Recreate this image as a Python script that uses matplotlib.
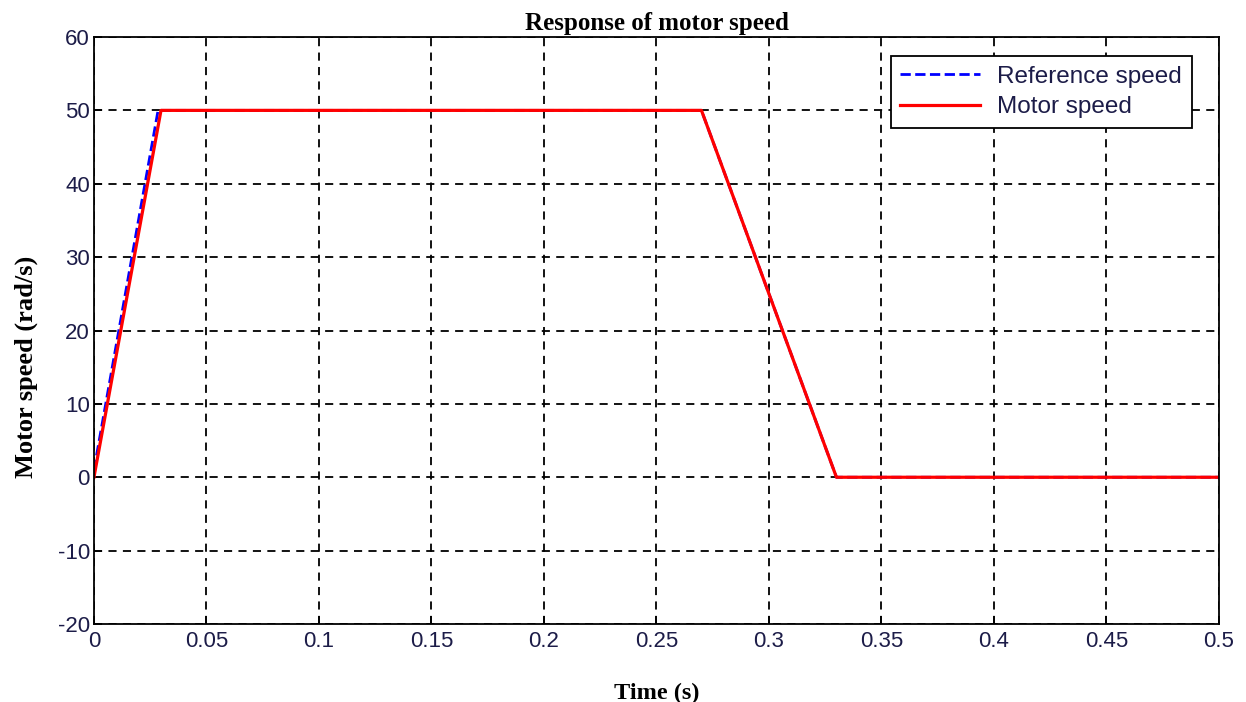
import matplotlib.pyplot as plt

plt.rcParams['axes.unicode_minus'] = False

# speed profiles (rad/s)
t_ref = [0, 0.0285, 0.27, 0.33, 0.5]
w_ref = [1, 50, 50, 0, 0]
t_motor = [0, 0.0298, 0.27, 0.33, 0.5]
w_motor = [0, 50, 50, 0, 0]

xticks = [0, 0.05, 0.1, 0.15, 0.2, 0.25, 0.3, 0.35, 0.4, 0.45, 0.5]
xtick_labels = ['0', '0.05', '0.1', '0.15', '0.2', '0.25', '0.3', '0.35', '0.4', '0.45', '0.5']
yticks = [-20, -10, 0, 10, 20, 30, 40, 50, 60]

tick_col = '#1c1c48'

fig = plt.figure(figsize=(12.46, 7.02), dpi=100)
ax = fig.add_axes([0.0754, 0.1111, 0.9029, 0.8362])

ax.plot(t_ref, w_ref, color='blue', linestyle='--', linewidth=2, label='Reference speed')
ax.plot(t_motor, w_motor, color='red', linewidth=2.3, label='Motor speed')

ax.set_xlim(0, 0.5)
ax.set_ylim(-20, 60)
ax.set_xticks(xticks)
ax.set_xticklabels(xtick_labels)
ax.set_yticks(yticks)
ax.tick_params(direction='in', length=6, width=1.2, labelsize=16,
               labelcolor=tick_col, labelfontfamily='Liberation Sans', pad=3)
ax.tick_params(axis='x', pad=5)
ax.grid(True, color='black', linestyle=(0, (4.5, 3.5)), linewidth=1.3)
for s in ax.spines.values():
    s.set_linewidth(1.3)

ax.set_title('Response of motor speed', fontsize=18, fontweight='bold',
             family='Liberation Serif', pad=5)
ax.set_xlabel('Time (s)', fontsize=17.5, fontweight='bold', family='Liberation Serif', labelpad=22)
ax.set_ylabel('Motor speed (rad/s)', fontsize=19, fontweight='bold', family='Liberation Serif')
ax.yaxis.set_label_coords(-0.050, 0.438)

leg = ax.legend(loc='upper right', bbox_to_anchor=(0.976, 0.968), borderaxespad=0,
                fancybox=False, framealpha=1, edgecolor='black', borderpad=0.4,
                handlelength=3.3, handletextpad=0.7, labelspacing=0.35,
                prop={'family': 'Liberation Sans', 'size': 17.5})
leg.get_frame().set_linewidth(1.3)
for txt in leg.get_texts():
    txt.set_color(tick_col)

fig.savefig('out.png', dpi=100)
